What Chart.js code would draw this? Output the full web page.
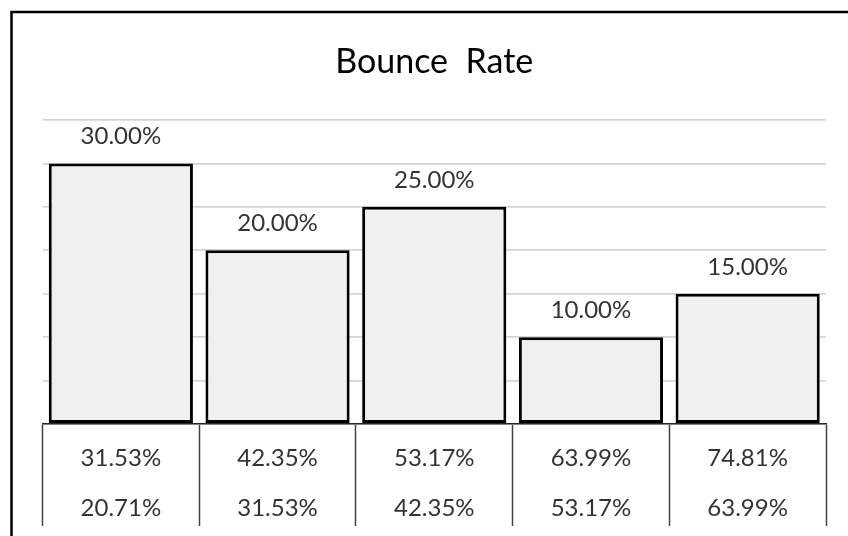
<!DOCTYPE html>
<html>
<head>
<meta charset="utf-8">
<script src="https://cdn.jsdelivr.net/npm/chart.js@4/dist/chart.umd.min.js"></script>
<style>
  html, body { margin: 0; padding: 0; background: #fff; overflow: hidden; }
  #wrap { position: relative; width: 848px; height: 536px; }
</style>
</head>
<body>
<div id="wrap"><canvas id="c" width="848" height="536"></canvas></div>
<script>
// Histogram bins: upper and lower bound of each bin
const binUpper = ['31.53%', '42.35%', '53.17%', '63.99%', '74.81%'];
const binLower = ['20.71%', '31.53%', '42.35%', '53.17%', '63.99%'];
// Share of sessions falling in each bin (percent)
const binShare = [30, 20, 25, 10, 15];
// Value axis range and gridline step
const axisMax = 35;
const axisStep = 5;

const categories = binUpper.map((u, i) => [u, binLower[i]]);

const FONT = 'Lato, "Open Sans", sans-serif';
const TEXT = '#333333';

// Frame line along the top and left of the chart
const framePlugin = {
  id: 'frame',
  beforeDraw(chart) {
    const ctx = chart.ctx;
    ctx.save();
    ctx.strokeStyle = '#000';
    ctx.lineWidth = 2.5;
    ctx.strokeRect(11.5, 12, 2000, 2000);
    ctx.restore();
  }
};

// Value labels above each bar
const valueLabels = {
  id: 'valueLabels',
  afterDatasetsDraw(chart) {
    const ctx = chart.ctx;
    const meta = chart.getDatasetMeta(0);
    ctx.save();
    ctx.font = '24px ' + FONT;
    ctx.fillStyle = TEXT;
    ctx.textAlign = 'center';
    ctx.textBaseline = 'alphabetic';
    meta.data.forEach((bar, i) => {
      const v = chart.data.datasets[0].data[i];
      ctx.fillText(v.toFixed(2) + '%', bar.x, bar.y - 19);
    });
    ctx.restore();
  }
};

new Chart(document.getElementById('c'), {
  type: 'bar',
  data: {
    labels: categories,
    datasets: [{
      data: binShare,
      backgroundColor: '#f0f0f0',
      borderColor: '#000',
      borderWidth: 3,
      borderSkipped: false,
      categoryPercentage: 1,
      barPercentage: 0.92
    }]
  },
  options: {
    responsive: false,
    animation: false,
    devicePixelRatio: 1,
    layout: { padding: { left: 42.5, right: 22, top: 0, bottom: 0 } },
    plugins: {
      legend: { display: false },
      tooltip: { enabled: false },
      title: {
        display: true,
        text: 'Bounce  Rate',
        color: '#000',
        font: { family: FONT, size: 34, weight: 'normal', lineHeight: 1.2 },
        padding: { top: 42, bottom: 37.2 }
      }
    },
    scales: {
      x: {
        grid: {
          offset: true,
          drawOnChartArea: false,
          drawTicks: true,
          tickLength: 102,
          tickColor: '#404040',
          tickWidth: 1.5
        },
        border: { display: true, color: '#262626', width: 1.5 },
        ticks: {
          color: TEXT,
          font: { family: FONT, size: 24, lineHeight: 50 / 24 },
          padding: -92.5,
          maxRotation: 0,
          autoSkip: false
        },
        afterFit(scale) { scale.height = 112; }
      },
      y: {
        min: 0,
        max: axisMax,
        ticks: { display: false, stepSize: axisStep },
        border: { display: false },
        grid: { color: '#d4d4d4', lineWidth: 1.8, drawTicks: false },
        afterFit(scale) { scale.width = 0; }
      }
    }
  },
  plugins: [framePlugin, valueLabels]
});
</script>
</body>
</html>
